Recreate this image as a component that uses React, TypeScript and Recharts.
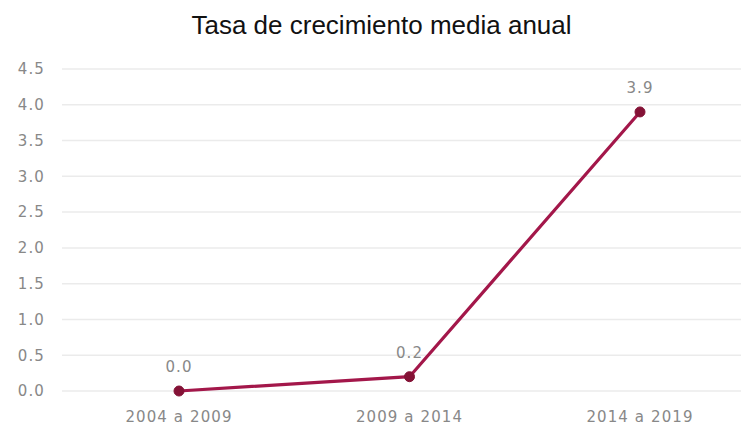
import { LineChart, Line, XAxis, YAxis, CartesianGrid, LabelList } from 'recharts'

const periods = ['2004 a 2009', '2009 a 2014', '2014 a 2019']
const rates = [0.0, 0.2, 3.9]
const yTicks = [0, 0.5, 1, 1.5, 2, 2.5, 3, 3.5, 4, 4.5]

const data = periods.map((p, i) => ({ period: p, rate: rates[i] }))

const tickStyle = { fontFamily: 'DejaVu Sans', fontSize: 15, fill: '#888', letterSpacing: 1.1 }

function fmt(v: unknown): string {
  return (v as number).toFixed(1)
}

export default function App() {
  return (
    <div style={{ position: 'absolute', left: 0, top: 0, width: 741, height: 432, background: '#fff' }}>
      <div
        style={{
          position: 'absolute',
          top: 12,
          left: 381.5,
          transform: 'translateX(-50%)',
          whiteSpace: 'nowrap',
          fontFamily: '"Liberation Sans", Arial, sans-serif',
          fontSize: 26,
          lineHeight: '26px',
          color: '#111',
        }}
      >
        Tasa de crecimiento media anual
      </div>
      <LineChart width={741} height={432} data={data} margin={{ top: 69, right: 0, bottom: 11, left: 0 }}>
        <CartesianGrid vertical={false} stroke="#ebebeb" strokeWidth={1.5} />
        <XAxis
          dataKey="period"
          axisLine={false}
          tickLine={false}
          interval={0}
          tickMargin={14}
          padding={{ left: 117, right: 101 }}
          tick={tickStyle}
        />
        <YAxis
          domain={[0, 4.5]}
          ticks={yTicks}
          interval={0}
          axisLine={false}
          tickLine={false}
          width={62}
          tickMargin={11}
          tickFormatter={fmt}
          tick={tickStyle}
        />
        <Line
          type="linear"
          dataKey="rate"
          stroke="#a3174a"
          strokeWidth={3.2}
          dot={{ r: 5, fill: '#841236', stroke: '#841236', strokeWidth: 1 }}
          activeDot={false}
          isAnimationActive={false}
        >
          <LabelList dataKey="rate" position="top" offset={19} formatter={fmt} style={tickStyle} />
        </Line>
      </LineChart>
    </div>
  )
}
